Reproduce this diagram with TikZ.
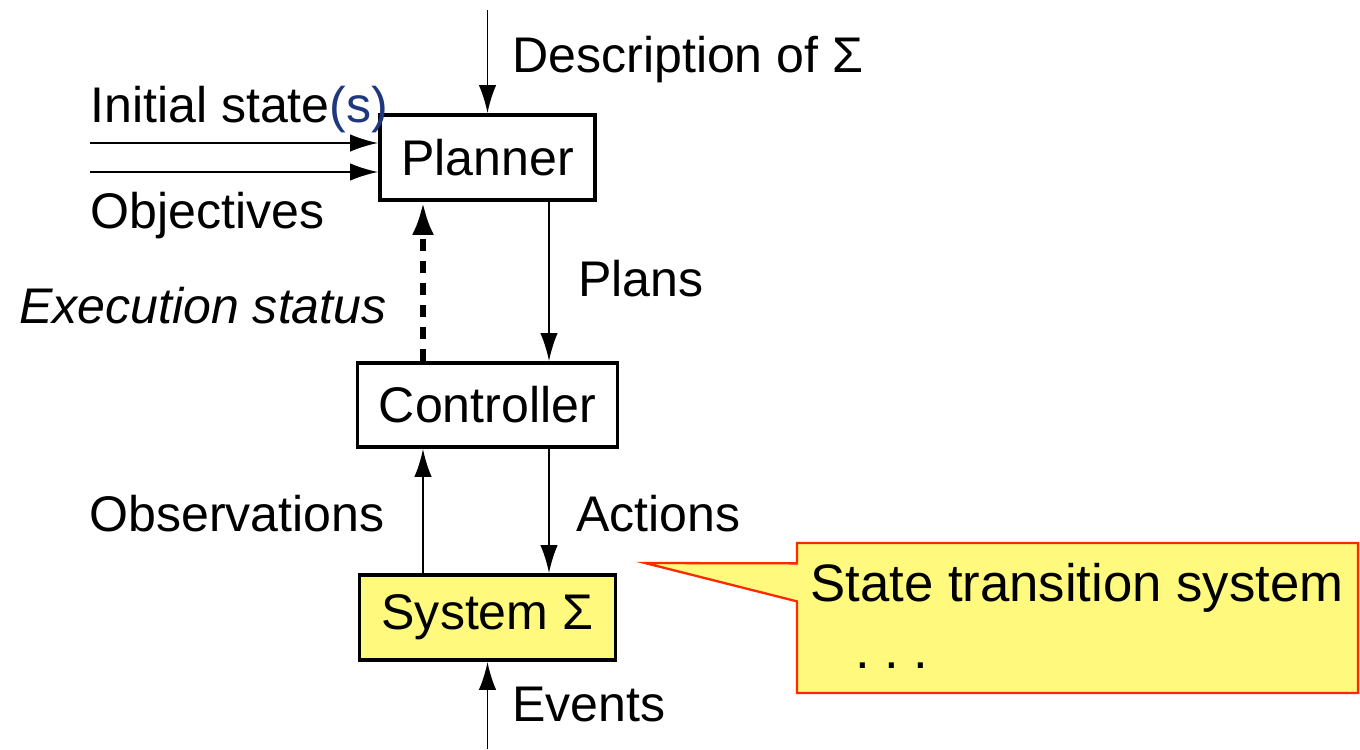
\documentclass[tikz,border=0pt]{standalone}
\usepackage{fontspec}
\setmainfont{Liberation Sans}
\usepackage{xcolor}
\usepackage{tikz}
\usetikzlibrary{shapes.callouts, arrows.meta}
\definecolor{noteyellow}{RGB}{255,250,125}
\definecolor{notered}{RGB}{255,40,0}
\definecolor{stateblue}{RGB}{30,55,125}

\begin{document}
\begin{tikzpicture}[node distance=4.95cm, auto]
    % Define the style for the nodes
    \tikzstyle{block} = [rectangle, draw, line width=2.2pt, inner sep=0pt, font=\fontsize{28.5}{34}\selectfont]
    \tikzstyle{tag} = [inner sep=0pt, anchor=base west, font=\fontsize{28.5}{34}\selectfont]
    \tikzstyle{line} = [draw, -{Latex[length=5.6mm,width=3.5mm]}, line width=1.1pt]
    \tikzstyle{statusline} = [draw, -{Latex[length=6.6mm,width=4.4mm]}, line width=3.4pt, dash pattern=on 0.24cm off 0.2cm]

    \useasboundingbox (0,0) rectangle (27.2,-14.98);

    % Place the nodes
    \node [block, minimum width=4.3cm, minimum height=1.7cm] (planner) at (9.75,-3.15) {Planner};
    \node [block, minimum width=5.2cm, minimum height=1.68cm, below of=planner] (controller) {Controller};
    \node [block, fill=noteyellow, minimum width=5.12cm, minimum height=1.7cm, below of=controller, node distance=4.25cm] (system) {System Σ};

    % Free ends of the inputs
    \coordinate (descin) at (9.75,-0.2);
    \coordinate (initin) at (1.8,-2.86);
    \coordinate (objin) at (1.8,-3.44);
    \coordinate (eventin) at (9.75,-14.98);

    % Connect the nodes with paths
    \path [line] (descin) -- (planner.north);
    \path [line] (initin) -- (initin -| planner.west);
    \path [line] (objin) -- (objin -| planner.west);
    \path [statusline] ([xshift=-1.29cm]controller.north) -- ([xshift=-1.29cm]controller.north |- planner.south);
    \path [line] ([xshift=1.23cm]planner.south) -- ([xshift=1.23cm]planner.south |- controller.north);
    \path [line] ([xshift=-1.29cm]system.north) -- ([xshift=-1.29cm]system.north |- controller.south);
    \path [line] ([xshift=1.23cm]controller.south) -- ([xshift=1.23cm]controller.south |- system.north);
    \path [line] (eventin) -- (system.south);

    % Labels
    \node [tag] (desctext) at (10.24,-1.44) {Description of Σ};
    \node [tag] (inittext) at (1.8,-2.44) {Initial state\textcolor{stateblue}{(s)}};
    \node [tag] (objtext) at (1.8,-4.56) {Objectives};
    \node [tag, anchor=base east] (statustext) at (7.74,-6.46) {\itshape Execution status};
    \node [tag] (planstext) at (11.56,-5.92) {Plans};
    \node [tag, anchor=base east] (obstext) at (7.7,-10.62) {Observations};
    \node [tag] (actiontext) at (11.52,-10.62) {Actions};
    \node [tag] (eventtext) at (10.24,-14.42) {Events};

    % Callout
    \node [rectangle callout, draw=notered, fill=noteyellow, line width=1.3pt, minimum width=11.22cm, minimum height=3cm, callout absolute pointer={(12.9,-11.26)}, callout pointer width=0.76cm] (note) at (21.55,-12.36) {};
    \node [tag, font=\fontsize{30}{36}\selectfont] (notetitle) at (16.2,-12.02) {State transition system};
    \node [tag, font=\fontsize{30}{36}\selectfont] (notedots) at (17.1,-13.36) {.\ .\ .};

\end{tikzpicture}
\end{document}
